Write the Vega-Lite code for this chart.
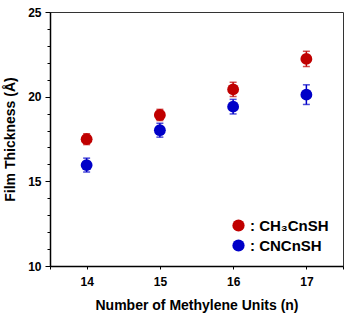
{
  "$schema": "https://vega.github.io/schema/vega-lite/v6.json",
  "autosize": "none",
  "padding": {"left": 50, "top": 12, "right": 4, "bottom": 56},
  "width": 293,
  "height": 254,
  "config": {
    "view": {"stroke": "#333", "strokeWidth": 1},
    "font": "Liberation Sans",
    "axis": {"domain": true, "domainColor": "#000", "domainWidth": 1.5, "grid": false, "labelFont": "Liberation Sans", "labelFontWeight": "bold", "labelFontSize": 12, "labelColor": "#000", "titleFont": "Liberation Sans", "titleFontWeight": "bold", "titleFontSize": 14, "titleColor": "#000", "tickColor": "#000", "tickWidth": 1}
  },
  "data": {"values": [
    {"n": 14, "series": "CH₃CnSH", "t": 17.49, "err": 0.32},
    {"n": 15, "series": "CH₃CnSH", "t": 18.92, "err": 0.33},
    {"n": 16, "series": "CH₃CnSH", "t": 20.43, "err": 0.42},
    {"n": 17, "series": "CH₃CnSH", "t": 22.23, "err": 0.45},
    {"n": 14, "series": "CNCnSH", "t": 15.96, "err": 0.41},
    {"n": 15, "series": "CNCnSH", "t": 18.02, "err": 0.41},
    {"n": 16, "series": "CNCnSH", "t": 19.41, "err": 0.43},
    {"n": 17, "series": "CNCnSH", "t": 20.12, "err": 0.58}
  ]},
  "encoding": {
    "x": {"field": "n", "type": "quantitative", "scale": {"domain": [13.5, 17.5], "nice": false}, "axis": {"values": [13.5, 14, 15, 16, 17, 17.5], "labelExpr": "datum.value % 1 === 0 ? format(datum.value, 'd') : ''", "tickSize": 3, "labelPadding": 7, "title": "Number of Methylene Units (n)", "titlePadding": 11}},
    "y": {"field": "t", "type": "quantitative", "scale": {"domain": [10, 25], "nice": false, "zero": false}, "axis": {"values": [10, 11, 12, 13, 14, 15, 16, 17, 18, 19, 20, 21, 22, 23, 24, 25], "labelExpr": "datum.value % 5 === 0 ? datum.label : ''", "tickSize": {"condition": {"test": "datum.value % 5 === 0", "value": 5}, "value": 3}, "labelPadding": 4, "title": "Film Thickness (Å)", "titlePadding": 10}},
    "color": {"field": "series", "type": "nominal", "scale": {"domain": ["CH₃CnSH", "CNCnSH"], "range": ["#c00000", "#0000c8"]}, "legend": {"title": null, "orient": "none", "legendX": 181, "legendY": 206, "symbolType": "circle", "symbolSize": 150, "symbolOpacity": 1, "symbolStrokeWidth": 0, "labelFontSize": 15, "labelFontWeight": "bold", "labelFont": "Liberation Sans", "labelColor": "#000", "rowPadding": 4, "labelOffset": 4, "labelExpr": "': ' + datum.label"}}
  },
  "layer": [
    {
      "mark": {"type": "errorbar", "ticks": {"size": 7, "thickness": 1.5}, "thickness": 1.5},
      "encoding": {
        "yError": {"field": "err"}
      }
    },
    {
      "mark": {"type": "point", "filled": true, "opacity": 1, "size": 140}
    }
  ]
}
